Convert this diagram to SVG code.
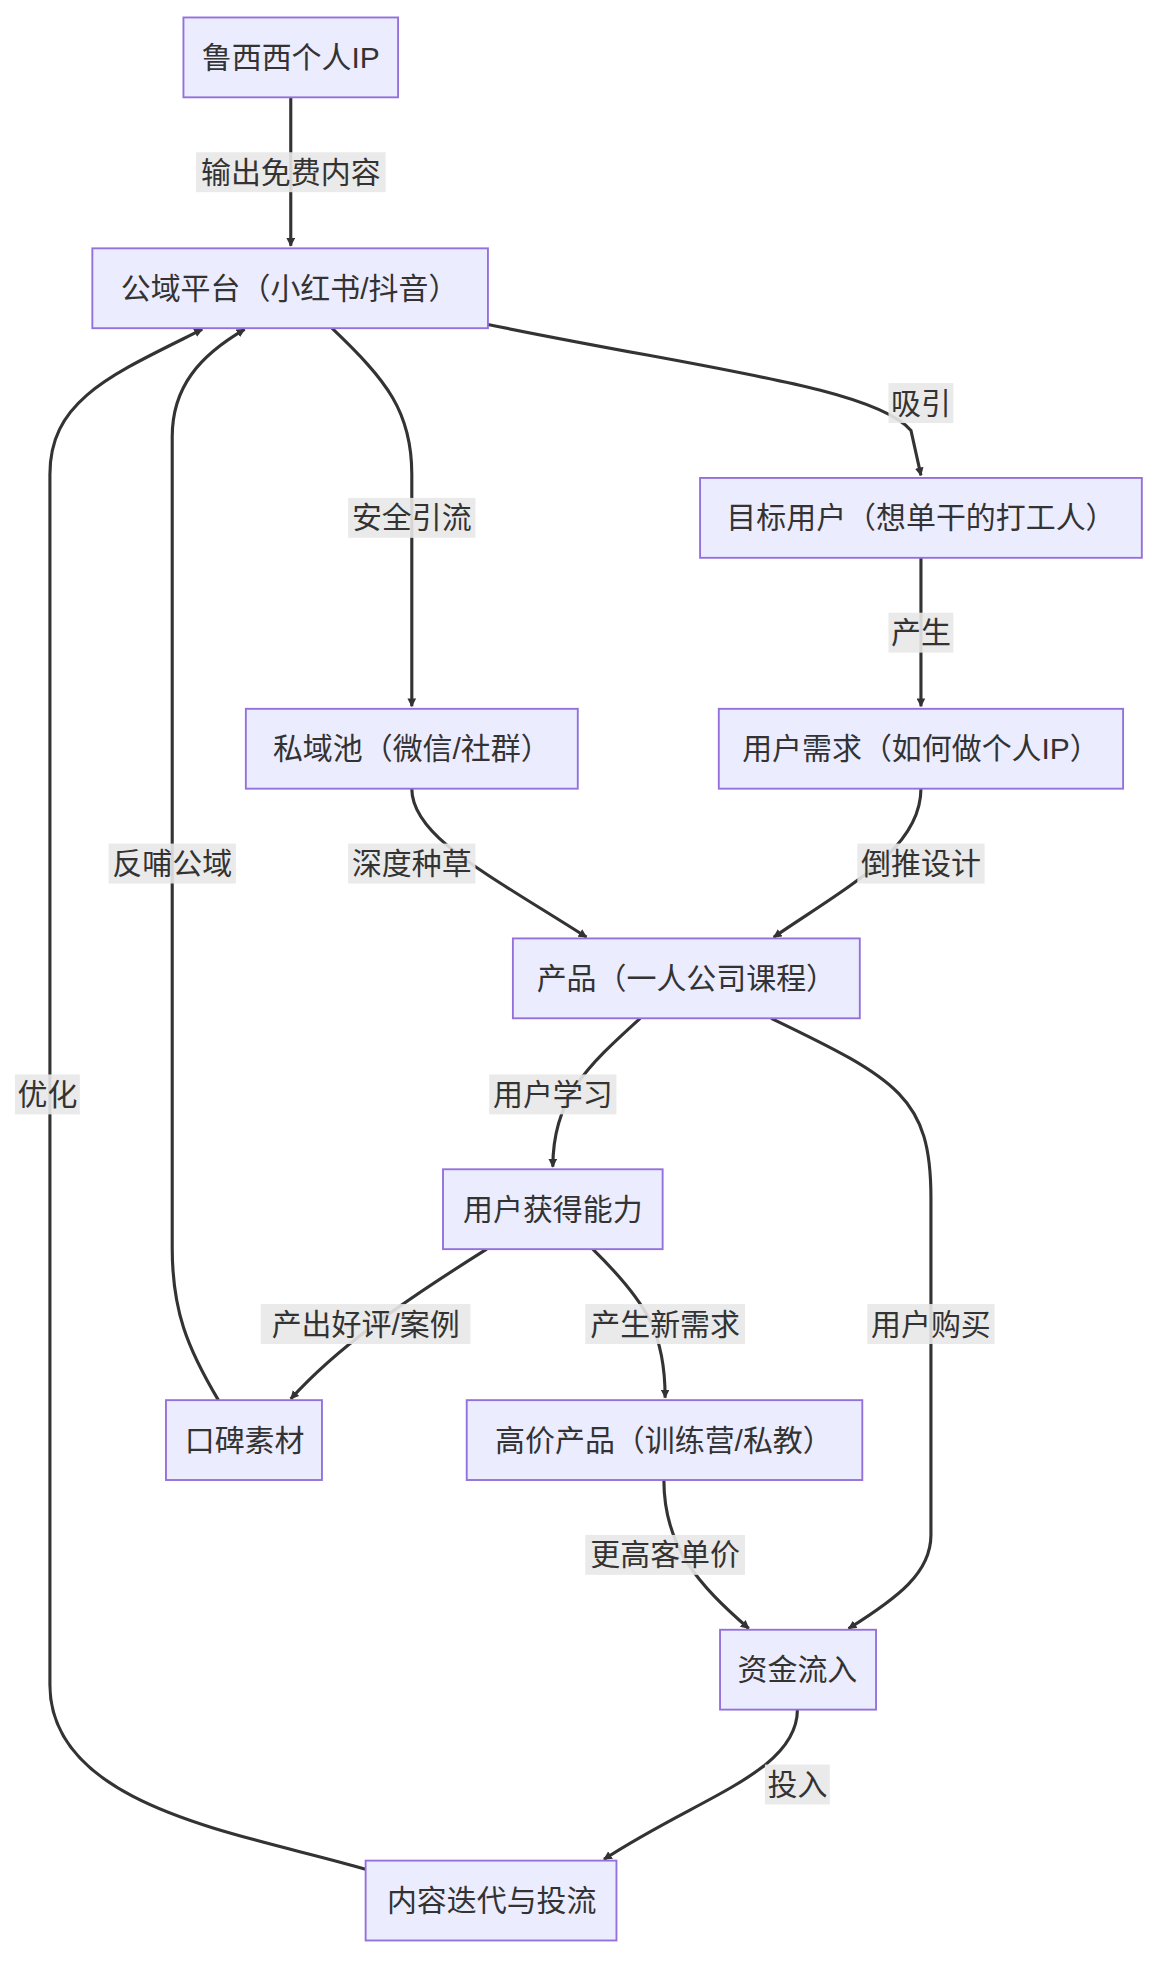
<svg xmlns="http://www.w3.org/2000/svg" width="1168" height="1974" viewBox="0 0 1168 1974">
<defs>
<style>
.n rect{fill:#ECECFF;stroke:#9370DB;stroke-width:1.5}
text{font-family:"Liberation Sans","Noto Sans CJK SC",sans-serif;font-size:24px;fill:#333;text-anchor:middle;dominant-baseline:central}
.e path{fill:none;stroke:#333;stroke-width:2.5;marker-end:url(#ah)}
.l rect{fill:#e8e8e8;opacity:0.9}
</style>
<marker id="ah" viewBox="0 0 10 10" refX="9" refY="5" markerWidth="7" markerHeight="7" markerUnits="userSpaceOnUse" orient="auto"><path d="M0,0L10,5L0,10z" fill="#333"/></marker>
</defs>
<rect width="1168" height="1974" fill="#fff"/>
<g transform="scale(1.2479)">
<g class="e" id="edges">
<path d="M233,78L233,197"/>
<path d="M391,260C560,295 700,310 730,345 L738,381"/>
<path d="M266,263C310,305 330,330 330,380 L330,566"/>
<path d="M738,447L738,566"/>
<path d="M330,632C330,670 390,700 470,751"/>
<path d="M738,632C738,680 680,710 620,751"/>
<path d="M513,816C470,855 443,880 443,935"/>
<path d="M618,816C720,865 746,880 746,960 L746,1230 C746,1260 720,1280 680,1305"/>
<path d="M390,1001C320,1045 270,1080 233,1121"/>
<path d="M475,1001C520,1045 533,1070 533,1120"/>
<path d="M175,1122C150,1080 138,1050 138,1000 L138,350 C138,310 160,285 196,264"/>
<path d="M532,1186C532,1240 560,1270 600,1305"/>
<path d="M639,1370C639,1420 560,1440 484,1490"/>
<path d="M293,1498C200,1470 40,1450 40,1350 L40,380 C40,320 90,300 162,264"/>
</g>
<g class="l" id="labels">
<rect x="157" y="122" width="152" height="32"/><text x="233" y="138">输出免费内容</text>
<rect x="712" y="307" width="52" height="32"/><text x="738" y="323">吸引</text>
<rect x="279" y="399" width="102" height="32"/><text x="330" y="415">安全引流</text>
<rect x="712" y="491" width="52" height="32"/><text x="738" y="507">产生</text>
<rect x="279" y="676" width="102" height="32"/><text x="330" y="692">深度种草</text>
<rect x="687" y="676" width="102" height="32"/><text x="738" y="692">倒推设计</text>
<rect x="392" y="861" width="102" height="32"/><text x="443" y="877">用户学习</text>
<rect x="695" y="1045" width="102" height="32"/><text x="746" y="1061">用户购买</text>
<rect x="209" y="1045" width="168" height="32"/><text x="293" y="1061">产出好评/案例</text>
<rect x="469" y="1045" width="128" height="32"/><text x="533" y="1061">产生新需求</text>
<rect x="87" y="676" width="102" height="32"/><text x="138" y="692">反哺公域</text>
<rect x="469" y="1230" width="128" height="32"/><text x="533" y="1246">更高客单价</text>
<rect x="613" y="1414" width="52" height="32"/><text x="639" y="1430">投入</text>
<rect x="12" y="861" width="52" height="32"/><text x="38" y="877">优化</text>
</g>
<g class="n" id="A"><rect x="147" y="14" width="172" height="64"/><text x="233" y="46">鲁西西个人IP</text></g>
<g class="n" id="B"><rect x="74" y="199" width="317" height="64"/><text x="232" y="231">公域平台（小红书/抖音）</text></g>
<g class="n" id="C"><rect x="561" y="383" width="354" height="64"/><text x="738" y="415">目标用户（想单干的打工人）</text></g>
<g class="n" id="D"><rect x="197" y="568" width="266" height="64"/><text x="330" y="600">私域池（微信/社群）</text></g>
<g class="n" id="E"><rect x="576" y="568" width="324" height="64"/><text x="738" y="600">用户需求（如何做个人IP）</text></g>
<g class="n" id="F"><rect x="411" y="752" width="278" height="64"/><text x="550" y="784">产品（一人公司课程）</text></g>
<g class="n" id="G"><rect x="355" y="937" width="176" height="64"/><text x="443" y="969">用户获得能力</text></g>
<g class="n" id="H"><rect x="133" y="1122" width="125" height="64"/><text x="196" y="1154">口碑素材</text></g>
<g class="n" id="I"><rect x="374" y="1122" width="317" height="64"/><text x="532" y="1154">高价产品（训练营/私教）</text></g>
<g class="n" id="J"><rect x="577" y="1306" width="125" height="64"/><text x="639" y="1338">资金流入</text></g>
<g class="n" id="K"><rect x="293" y="1491" width="201" height="64"/><text x="394" y="1523">内容迭代与投流</text></g>
</g>
</svg>
